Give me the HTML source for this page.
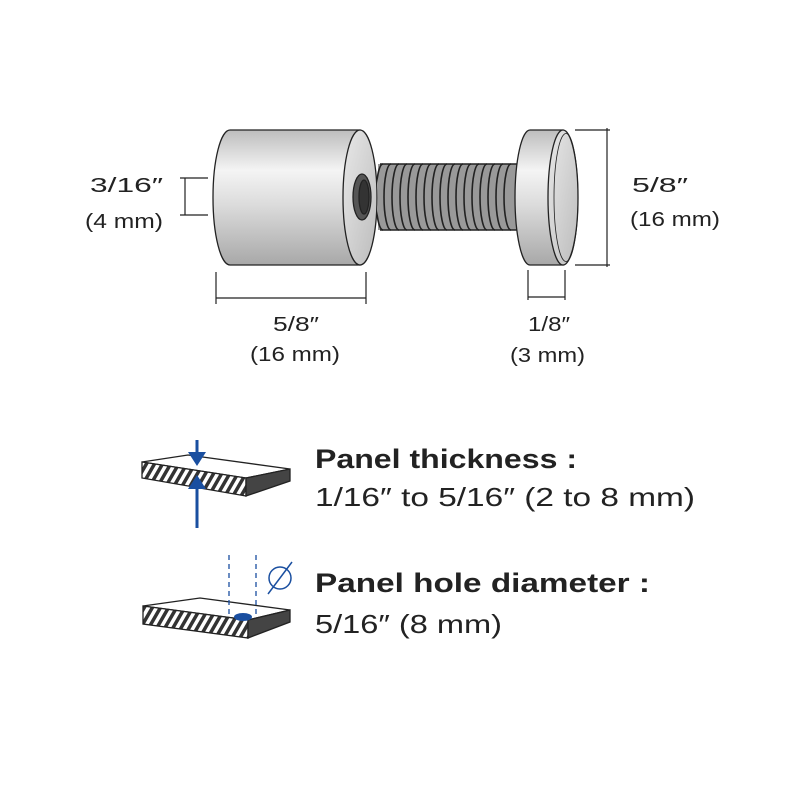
<!DOCTYPE html>
<html><head><style>html,body{margin:0;padding:0;background:#fff}svg{display:block}</style></head>
<body>
<svg width="800" height="800" viewBox="0 0 800 800" xmlns="http://www.w3.org/2000/svg" font-family="'Liberation Sans',sans-serif">
<defs>
<linearGradient id="cyl" x1="0" y1="0" x2="0" y2="1">
<stop offset="0" stop-color="#bdbdbd"/><stop offset="0.3" stop-color="#f4f4f4"/><stop offset="0.55" stop-color="#dcdcdc"/><stop offset="1" stop-color="#a8a8a8"/>
</linearGradient>
<linearGradient id="face" x1="0" y1="0" x2="1" y2="1">
<stop offset="0" stop-color="#e8e8e8"/><stop offset="1" stop-color="#bcbcbc"/>
</linearGradient>
<pattern id="hatch" width="7" height="7" patternUnits="userSpaceOnUse" patternTransform="rotate(30)">
<rect width="7" height="7" fill="#fff"/><rect width="3.5" height="7" fill="#333"/>
</pattern>
</defs>
<g stroke="#222" stroke-width="1.3">
<path d="M230,130 L360,130 L360,265 L230,265 A17,67.5 0 0 1 230,130 Z" fill="url(#cyl)"/>
<rect x="378" y="164" width="140" height="66" fill="#999" stroke="none"/>
<g fill="none" stroke="#222" stroke-width="1.6">
<path d="M383,164 a7,33 0 0 0 0,66 M391,164 a7,33 0 0 0 0,66 M399,164 a7,33 0 0 0 0,66 M407,164 a7,33 0 0 0 0,66 M415,164 a7,33 0 0 0 0,66 M423,164 a7,33 0 0 0 0,66 M431,164 a7,33 0 0 0 0,66 M439,164 a7,33 0 0 0 0,66 M447,164 a7,33 0 0 0 0,66 M455,164 a7,33 0 0 0 0,66 M463,164 a7,33 0 0 0 0,66 M471,164 a7,33 0 0 0 0,66 M479,164 a7,33 0 0 0 0,66 M487,164 a7,33 0 0 0 0,66 M495,164 a7,33 0 0 0 0,66 M503,164 a7,33 0 0 0 0,66 M511,164 a7,33 0 0 0 0,66"/>
<path d="M380,164 L518,164 M380,230 L518,230"/>
</g>
<ellipse cx="360" cy="197.5" rx="17" ry="67.5" fill="url(#face)"/>
<ellipse cx="362" cy="197" rx="9" ry="23" fill="#555"/>
<ellipse cx="364" cy="197" rx="5" ry="17" fill="#333"/>
<path d="M530,130 L563,130 L563,265 L530,265 A15,67.5 0 0 1 530,130 Z" fill="url(#cyl)"/>
<ellipse cx="563" cy="197.5" rx="15" ry="67.5" fill="url(#face)"/>
<ellipse cx="566" cy="197.5" rx="12" ry="64" fill="none" stroke-width="0.8"/>
</g>
<g stroke="#222" stroke-width="1.2" fill="none">
<path d="M180,178 H208 M180,215 H208 M185,178 V215"/>
<path d="M216,272 V304 M366,272 V304 M216,298 H366"/>
<path d="M528,270 V300 M565,270 V300 M528,297 H565"/>
<path d="M575,130 H610 M575,265 H610 M607,128 V267"/>
</g>
<g font-size="20" fill="#222">
<text x="90" y="192" textLength="73" lengthAdjust="spacingAndGlyphs">3/16″</text>
<text x="85" y="228" textLength="78" lengthAdjust="spacingAndGlyphs">(4 mm)</text>
<text x="273" y="331" textLength="46" lengthAdjust="spacingAndGlyphs">5/8″</text>
<text x="250" y="361" textLength="90" lengthAdjust="spacingAndGlyphs">(16 mm)</text>
<text x="528" y="331" textLength="42" lengthAdjust="spacingAndGlyphs">1/8″</text>
<text x="510" y="362" textLength="75" lengthAdjust="spacingAndGlyphs">(3 mm)</text>
<text x="632" y="192" textLength="56" lengthAdjust="spacingAndGlyphs">5/8″</text>
<text x="630" y="226" textLength="90" lengthAdjust="spacingAndGlyphs">(16 mm)</text>
</g>
<g stroke="#222" stroke-width="1.3">
<polygon points="142,462 188,455 290,469 246,478" fill="#fff"/>
<polygon points="142,462 246,478 246,496 142,478" fill="url(#hatch)"/>
<polygon points="246,478 290,469 290,481 246,496" fill="#444"/>
</g>
<g fill="#1a4fa0" stroke="#1a4fa0">
<line x1="197" y1="440" x2="197" y2="458" stroke-width="3"/>
<polygon points="188,452 206,452 197,466" stroke="none"/>
<line x1="197" y1="480" x2="197" y2="528" stroke-width="3"/>
<polygon points="188,489 206,489 197,475" stroke="none"/>
</g>
<g stroke="#222" stroke-width="1.3">
<polygon points="143,606 200,598 290,610 248,620" fill="#fff"/>
<polygon points="143,606 248,620 248,638 143,624" fill="url(#hatch)"/>
<polygon points="248,620 290,610 290,622 248,638" fill="#444"/>
</g>
<ellipse cx="243" cy="617" rx="9" ry="4" fill="#1a4fa0"/>
<g stroke="#1a4fa0" stroke-width="1.3" stroke-dasharray="5,4" fill="none">
<line x1="229" y1="555" x2="229" y2="614"/>
<line x1="256" y1="555" x2="256" y2="614"/>
</g>
<g stroke="#1a4fa0" stroke-width="1.5" fill="none">
<circle cx="280" cy="578" r="11"/>
<line x1="268" y1="594" x2="292" y2="562"/>
</g>
<g fill="#222">
<text x="315" y="468" font-size="27" font-weight="bold" textLength="262" lengthAdjust="spacingAndGlyphs">Panel thickness :</text>
<text x="315" y="506" font-size="26" textLength="380" lengthAdjust="spacingAndGlyphs">1/16″ to 5/16″ (2 to 8 mm)</text>
<text x="315" y="592" font-size="27" font-weight="bold" textLength="335" lengthAdjust="spacingAndGlyphs">Panel hole diameter :</text>
<text x="315" y="633" font-size="26" textLength="187" lengthAdjust="spacingAndGlyphs">5/16″ (8 mm)</text>
</g>
</svg>
</body></html>
